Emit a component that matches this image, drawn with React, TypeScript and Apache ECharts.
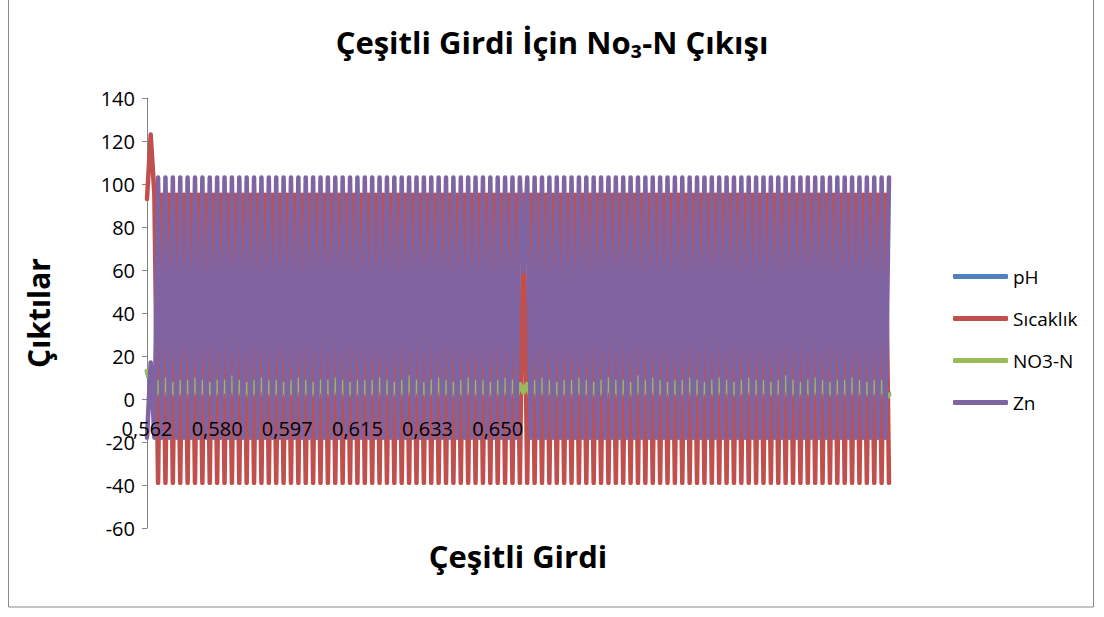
import React, { useEffect, useRef } from "react";
import * as echarts from "echarts";

const seriesNames = ["pH", "Sıcaklık", "NO3-N", "Zn"];
const tickLabels = ["0,562", "0,580", "0,597", "0,615", "0,633", "0,650"];
const labelStep = 19;

const pH = [
  13, 6.8, 7.4, 6.8, 7.4, 6.8, 7.4, 6.8, 7.4, 6.8, 7.4, 6.8, 7.4, 6.8, 7.4, 6.8, 7.4, 6.8, 7.4, 6.8,
  7.4, 6.8, 7.4, 6.8, 7.4, 6.8, 7.4, 6.8, 7.4, 6.8, 7.4, 6.8, 7.4, 6.8, 7.4, 6.8, 7.4, 6.8, 7.4, 6.8,
  7.4, 6.8, 7.4, 6.8, 7.4, 6.8, 7.4, 6.8, 7.4, 6.8, 7.4, 6.8, 7.4, 6.8, 7.4, 6.8, 7.4, 6.8, 7.4, 6.8,
  7.4, 6.8, 7.4, 6.8, 7.4, 6.8, 7.4, 6.8, 7.4, 6.8, 7.4, 6.8, 7.4, 6.8, 7.4, 6.8, 7.4, 6.8, 7.4, 6.8,
  7.4, 6.8, 7.4, 6.8, 7.4, 6.8, 7.4, 6.8, 7.4, 6.8, 7.4, 6.8, 7.4, 6.8, 7.4, 6.8, 7.4, 6.8, 7.4, 6.8,
  7.4, 6.8, 3, 6.8, 7.4, 6.8, 7.4, 6.8, 7.4, 6.8, 7.4, 6.8, 7.4, 6.8, 7.4, 6.8, 7.4, 6.8, 7.4, 6.8,
  7.4, 6.8, 7.4, 6.8, 7.4, 6.8, 7.4, 6.8, 7.4, 6.8, 7.4, 6.8, 7.4, 6.8, 7.4, 6.8, 7.4, 6.8, 7.4, 6.8,
  7.4, 6.8, 7.4, 6.8, 7.4, 6.8, 7.4, 6.8, 7.4, 6.8, 7.4, 6.8, 7.4, 6.8, 7.4, 6.8, 7.4, 6.8, 7.4, 6.8,
  7.4, 6.8, 7.4, 6.8, 7.4, 6.8, 7.4, 6.8, 7.4, 6.8, 7.4, 6.8, 7.4, 6.8, 7.4, 6.8, 7.4, 6.8, 7.4, 6.8,
  7.4, 6.8, 7.4, 6.8, 7.4, 6.8, 7.4, 6.8, 7.4, 6.8, 7.4, 6.8, 7.4, 6.8, 7.4, 6.8, 7.4, 6.8, 7.4, 6.8,
  7.4, 2,
];

const sicaklik = [
  93, 123, 95, -39, 95, -39, 95, -39, 95, -39, 95, -39, 95, -39, 95, -39, 95, -39, 95, -39,
  95, -39, 95, -39, 95, -39, 95, -39, 95, -39, 95, -39, 95, -39, 95, -39, 95, -39, 95, -39,
  95, -39, 95, -39, 95, -39, 95, -39, 95, -39, 95, -39, 95, -39, 95, -39, 95, -39, 95, -39,
  95, -39, 95, -39, 95, -39, 95, -39, 95, -39, 95, -39, 95, -39, 95, -39, 95, -39, 95, -39,
  95, -39, 95, -39, 95, -39, 95, -39, 95, -39, 95, -39, 95, -39, 95, -39, 95, -39, 95, -39,
  95, -39, 95, -39, 95, -39, 95, -39, 95, -39, 95, -39, 95, -39, 95, -39, 95, -39, 95, -39,
  95, -39, 95, -39, 95, -39, 95, -39, 95, -39, 95, -39, 95, -39, 95, -39, 95, -39, 95, -39,
  95, -39, 95, -39, 95, -39, 95, -39, 95, -39, 95, -39, 95, -39, 95, -39, 95, -39, 95, -39,
  95, -39, 95, -39, 95, -39, 95, -39, 95, -39, 95, -39, 95, -39, 95, -39, 95, -39, 95, -39,
  95, -39, 95, -39, 95, -39, 95, -39, 95, -39, 95, -39, 95, -39, 95, -39, 95, -39, 95, -39,
  95, -39,
];

const no3n = [
  13, 8, 0, 8, 0, 9, 0, 7, 0, 8, 0, 8, 0, 9, 0, 8, 0, 7, 0, 8,
  0, 8, 0, 10, 0, 8, 0, 7, 0, 8, 0, 9, 0, 8, 0, 8, 0, 7, 0, 8,
  0, 9, 0, 8, 0, 7, 0, 8, 0, 8, 0, 9, 0, 8, 0, 7, 0, 8, 0, 8,
  0, 8, 0, 9, 0, 8, 0, 7, 0, 8, 0, 10, 0, 8, 0, 7, 0, 8, 0, 9,
  0, 8, 0, 7, 0, 8, 0, 9, 0, 8, 0, 8, 0, 7, 0, 8, 0, 9, 0, 8,
  0, 7, 3, 7, 0, 8, 0, 9, 0, 8, 0, 7, 0, 8, 0, 8, 0, 9, 0, 8,
  0, 7, 0, 8, 0, 9, 0, 8, 0, 8, 0, 7, 0, 10, 0, 8, 0, 9, 0, 8,
  0, 7, 0, 8, 0, 8, 0, 9, 0, 8, 0, 7, 0, 8, 0, 9, 0, 8, 0, 7,
  0, 8, 0, 9, 0, 8, 0, 8, 0, 7, 0, 8, 0, 10, 0, 8, 0, 7, 0, 8,
  0, 9, 0, 8, 0, 7, 0, 8, 0, 8, 0, 9, 0, 8, 0, 7, 0, 8, 0, 8,
  0, 2,
];

const zn = [
  -18, 17, -18, 103, -18, 103, -18, 103, -18, 103, -18, 103, -18, 103, -18, 103, -18, 103, -18, 103,
  -18, 103, -18, 103, -18, 103, -18, 103, -18, 103, -18, 103, -18, 103, -18, 103, -18, 103, -18, 103,
  -18, 103, -18, 103, -18, 103, -18, 103, -18, 103, -18, 103, -18, 103, -18, 103, -18, 103, -18, 103,
  -18, 103, -18, 103, -18, 103, -18, 103, -18, 103, -18, 103, -18, 103, -18, 103, -18, 103, -18, 103,
  -18, 103, -18, 103, -18, 103, -18, 103, -18, 103, -18, 103, -18, 103, -18, 103, -18, 103, -18, 103,
  -18, 103, 59, 103, -18, 103, -18, 103, -18, 103, -18, 103, -18, 103, -18, 103, -18, 103, -18, 103,
  -18, 103, -18, 103, -18, 103, -18, 103, -18, 103, -18, 103, -18, 103, -18, 103, -18, 103, -18, 103,
  -18, 103, -18, 103, -18, 103, -18, 103, -18, 103, -18, 103, -18, 103, -18, 103, -18, 103, -18, 103,
  -18, 103, -18, 103, -18, 103, -18, 103, -18, 103, -18, 103, -18, 103, -18, 103, -18, 103, -18, 103,
  -18, 103, -18, 103, -18, 103, -18, 103, -18, 103, -18, 103, -18, 103, -18, 103, -18, 103, -18, 103,
  -18, 103,
];

const colors = ["#4F81BD", "#C0504D", "#9BBB59", "#8064A2"];
const FONT = "Open Sans";

export default function App() {
  const ref = useRef<HTMLDivElement>(null);

  useEffect(() => {
    if (!ref.current) return;
    const chart = echarts.init(ref.current, null, { renderer: "svg" });
    const categories = zn.map((_, i) =>
      i % labelStep === 0 && i / labelStep < tickLabels.length ? tickLabels[i / labelStep] : ""
    );
    const values = [pH, sicaklik, no3n, zn];
    chart.setOption({
      animation: false,
      backgroundColor: "#ffffff",
      color: colors,
      textStyle: { fontFamily: FONT },
      title: {
        text: "Çeşitli Girdi İçin No₃-N Çıkışı",
        left: "center",
        top: 21,
        textStyle: { fontSize: 31, fontWeight: "bold", color: "#000", fontFamily: FONT },
      },
      legend: {
        orient: "vertical",
        left: 953,
        top: 267,
        padding: 0,
        itemWidth: 55,
        itemHeight: 5,
        itemGap: 23,
        icon: "roundRect",
        textStyle: { fontSize: 19, color: "#000", fontFamily: FONT },
        data: seriesNames,
      },
      grid: { left: 147, top: 98, width: 742, height: 430, containLabel: false },
      xAxis: {
        type: "category",
        data: categories,
        boundaryGap: false,
        offset: -129,
        z: 20,
        axisLine: { show: false, onZero: false },
        axisTick: { show: false },
        splitLine: { show: false },
        axisLabel: {
          interval: labelStep - 1,
          margin: 19,
          fontSize: 20,
          color: "#000",
          fontFamily: FONT,
          hideOverlap: false,
        },
      },
      yAxis: {
        type: "value",
        min: -60,
        max: 140,
        interval: 20,
        name: "Çıktılar",
        nameLocation: "middle",
        nameGap: 94,
        nameTextStyle: { fontSize: 30, fontWeight: "bold", color: "#000", fontFamily: FONT },
        axisLine: { show: true, lineStyle: { color: "#868686", width: 1 } },
        axisTick: { show: true, length: 5, lineStyle: { color: "#868686" } },
        splitLine: { show: false },
        axisLabel: { fontSize: 20, color: "#000", margin: 12, fontFamily: FONT },
      },
      graphic: [
        {
          type: "rect",
          shape: { x: 8.5, y: -5, width: 1085, height: 612 },
          style: { fill: "none", stroke: "#8a8a8a", lineWidth: 1 },
          silent: true,
        },
        {
          type: "text",
          x: 518,
          y: 556,
          style: {
            text: "Çeşitli Girdi",
            fontSize: 31,
            fontWeight: "bold",
            fill: "#000",
            fontFamily: FONT,
            textAlign: "center",
            textVerticalAlign: "middle",
          },
        },
      ],
      series: seriesNames.map((name, k) => ({
        name,
        type: "line",
        data: values[k],
        symbol: "none",
        connectNulls: false,
        lineStyle: { width: 4.5, cap: "round", join: "round", color: colors[k] },
        itemStyle: { color: colors[k] },
        z: 2 + k,
      })),
    });
    return () => chart.dispose();
  }, []);

  return (
    <div
      ref={ref}
      style={{ position: "absolute", left: 0, top: 0, width: 1104, height: 617 }}
    />
  );
}
